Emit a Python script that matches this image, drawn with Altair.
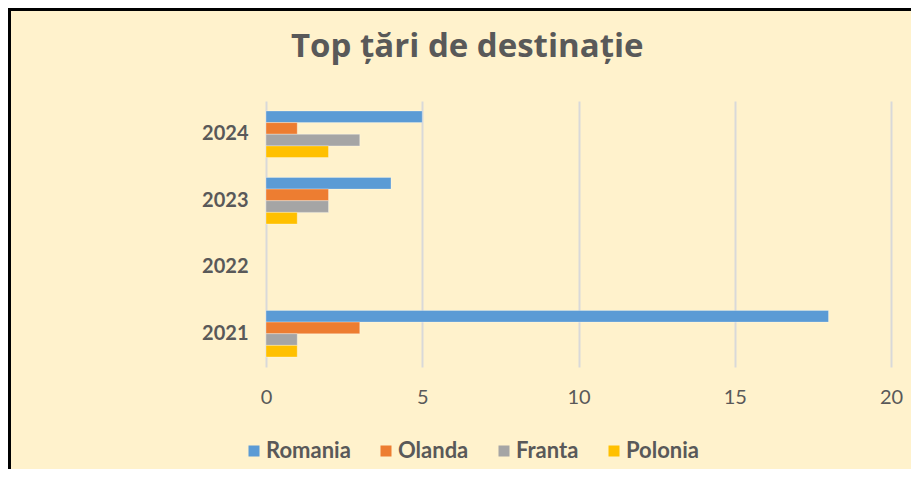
import altair as alt
import pandas as pd

title_text = "Top țări de destinație"
years = ["2024", "2023", "2022", "2021"]
series = ["Romania", "Olanda", "Franta", "Polonia"]
colors = ["#5B9BD5", "#ED7D31", "#A5A5A5", "#FFC000"]
romania = [5, 4, None, 18]
olanda = [1, 2, None, 3]
franta = [3, 2, None, 1]
polonia = [2, 1, None, 1]

rows = []
for i, y in enumerate(years):
    for s, vals in zip(series, [romania, olanda, franta, polonia]):
        if vals[i] is not None:
            rows.append({"An": y, "Tara": s, "Valoare": vals[i]})
df = pd.DataFrame(rows)

FONT = "Lato"
GRAY = "#595959"
W, H = 625, 266
PAD_L, PAD_T = 258, 93
TOTAL_W, TOTAL_H = 903, 461

bars = alt.Chart(df).mark_bar(stroke="#FFFFFF", strokeOpacity=0.5, strokeWidth=0.6).encode(
    x=alt.X("Valoare:Q", scale=alt.Scale(domain=[0, 20]), title=None,
            axis=alt.Axis(values=[0, 5, 10, 15, 20], domain=False, ticks=False,
                          grid=True, gridColor="#D9D9D9", gridWidth=2,
                          labelFont=FONT, labelFontSize=20, labelColor=GRAY,
                          labelPadding=20, labelFlush=False)),
    y=alt.Y("An:N", sort=years, scale=alt.Scale(domain=years, paddingInner=0.3, paddingOuter=0.15),
            title=None,
            axis=alt.Axis(domain=False, ticks=False, grid=False, labelFont=FONT,
                          labelFontSize=20, labelFontWeight="bold", labelColor=GRAY,
                          labelPadding=18)),
    yOffset=alt.YOffset("Tara:N", sort=series, scale=alt.Scale(domain=series)),
    color=alt.Color("Tara:N", sort=series,
                    scale=alt.Scale(domain=series, range=colors),
                    legend=alt.Legend(title=None, orient="none", direction="horizontal",
                                      legendX=-23, legendY=339, symbolType="square",
                                      symbolSize=121, symbolStrokeWidth=0,
                                      labelFont=FONT, labelFontSize=22,
                                      labelFontWeight="bold", labelColor=GRAY,
                                      labelOffset=1, columnPadding=24)),
)

title = alt.Chart(pd.DataFrame({"t": [title_text]})).mark_text(
    font="Open Sans", fontSize=33, fontWeight="bold", color=GRAY, align="left",
    baseline="alphabetic").encode(text="t:N", x=alt.value(25), y=alt.value(-44))

border_top = alt.Chart(pd.DataFrame({"a": [0]})).mark_rule(color="black", strokeWidth=3).encode(
    x=alt.value(-PAD_L), x2=alt.value(TOTAL_W - PAD_L), y=alt.value(-PAD_T + 1.5))
border_left = alt.Chart(pd.DataFrame({"a": [0]})).mark_rule(color="black", strokeWidth=3).encode(
    x=alt.value(-PAD_L + 1.5), y=alt.value(-PAD_T), y2=alt.value(TOTAL_H - PAD_T))

chart = alt.layer(bars, title, border_top, border_left).properties(
    width=W, height=H,
    autosize=alt.AutoSizeParams(type="none"),
    padding={"left": PAD_L, "top": PAD_T, "right": TOTAL_W - PAD_L - W,
             "bottom": TOTAL_H - PAD_T - H},
    background="#FFF2CC",
).configure_view(stroke=None)

chart.save("out.html", embed_options={"renderer": "svg", "actions": False})
